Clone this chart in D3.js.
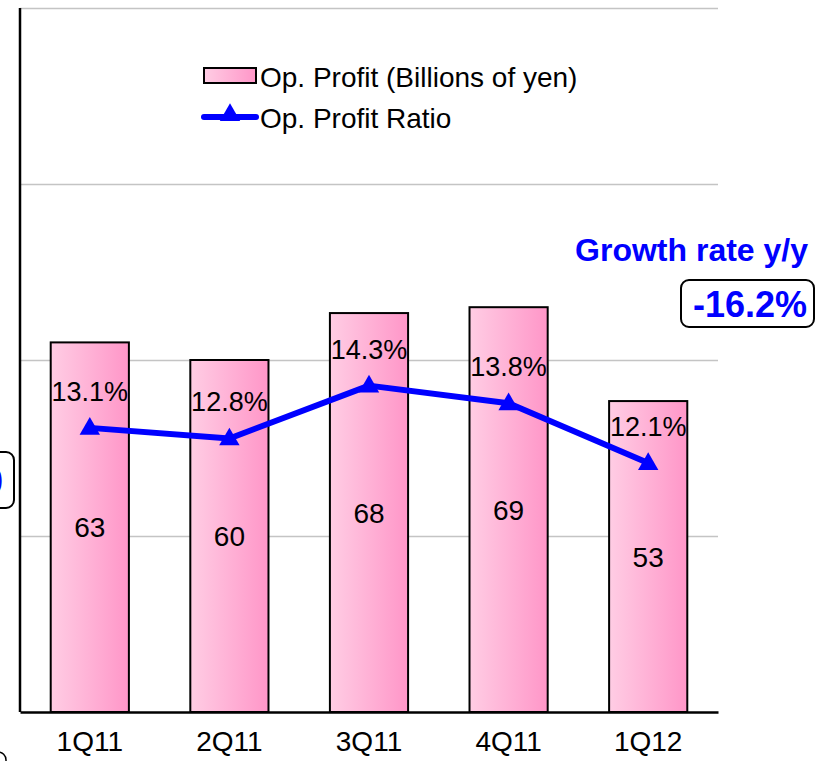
<!DOCTYPE html>
<html>
<head>
<meta charset="utf-8">
<script src="https://cdn.jsdelivr.net/npm/d3@7"></script>
<style>
  body { margin: 0; background: #fff; }
  svg { display: block; font-family: "Liberation Sans", Arial, sans-serif; }
</style>
</head>
<body>
<svg width="817" height="761"></svg>
<script>
var quarters = ["1Q11", "2Q11", "3Q11", "4Q11", "1Q12"];
var profit = [63, 60, 68, 69, 53];
var ratio = [13.1, 12.8, 14.3, 13.8, 12.1];
var growthLabel = "Growth rate y/y";
var growthValue = "-16.2%";

var svg = d3.select("svg");
var margin = {top: 8, right: 99, bottom: 49, left: 20};
var width = +svg.attr("width") - margin.left - margin.right;
var height = +svg.attr("height") - margin.top - margin.bottom;

var defs = svg.append("defs");
var grad = defs.append("linearGradient").attr("id", "pink")
    .attr("x1", "0%").attr("x2", "100%").attr("y1", "0%").attr("y2", "0%");
grad.append("stop").attr("offset", "0%").attr("stop-color", "#ffcde4");
grad.append("stop").attr("offset", "100%").attr("stop-color", "#ff96c8");

var g = svg.append("g")
    .attr("transform", "translate(" + margin.left + "," + margin.top + ")");

var x = d3.scaleBand().domain(quarters).range([0, width]).paddingInner(0.44).paddingOuter(0.22);
var y = d3.scaleLinear().domain([0, 120]).range([height, 0]);
var y2 = d3.scaleLinear().domain([5, 25]).range([height, 0]);

// gridlines
g.append("g")
    .call(d3.axisLeft(y).tickValues([30, 60, 90, 120]).tickSize(-width).tickFormat(""))
    .call(function(s) { s.select(".domain").remove(); })
    .selectAll("line").attr("stroke", "#c4c4c4").attr("stroke-width", 1.5);

// bars
g.selectAll("rect.bar").data(profit).enter().append("rect")
    .attr("class", "bar")
    .attr("x", function(d, i) { return x(quarters[i]); })
    .attr("y", function(d) { return y(d); })
    .attr("width", x.bandwidth())
    .attr("height", function(d) { return height - y(d); })
    .attr("fill", "url(#pink)")
    .attr("stroke", "#000")
    .attr("stroke-width", 2);

g.selectAll("text.val").data(profit).enter().append("text")
    .attr("x", function(d, i) { return x(quarters[i]) + x.bandwidth() / 2; })
    .attr("y", function(d) { return (y(d) + height) / 2 + 10; })
    .attr("text-anchor", "middle")
    .attr("font-size", 28)
    .text(function(d) { return d; });

// axes
var xAxis = g.append("g")
    .attr("transform", "translate(0," + height + ")")
    .call(d3.axisBottom(x).tickSize(0).tickPadding(19));
xAxis.select(".domain").attr("stroke", "#000").attr("stroke-width", 2.5);
xAxis.selectAll("text").attr("font-size", 28).attr("fill", "#000")
    .attr("font-family", "Liberation Sans, Arial, sans-serif");

g.append("line")
    .attr("x1", 0).attr("x2", 0).attr("y1", 0).attr("y2", height)
    .attr("stroke", "#000").attr("stroke-width", 2.5);

// ratio line
var cx = function(d, i) { return x(quarters[i]) + x.bandwidth() / 2; };
var line = d3.line()
    .x(cx)
    .y(function(d) { return y2(d) + 1; });

g.append("path")
    .datum(ratio)
    .attr("d", line)
    .attr("fill", "none")
    .attr("stroke", "#0000ff")
    .attr("stroke-width", 6)
    .attr("stroke-linejoin", "round");

var tri = d3.symbol().type(d3.symbolTriangle).size(180);
g.selectAll("path.mark").data(ratio).enter().append("path")
    .attr("class", "mark")
    .attr("d", tri)
    .attr("transform", function(d, i) { return "translate(" + cx(d, i) + "," + (y2(d) + 2) + ")"; })
    .attr("fill", "#0000ff");

g.selectAll("text.pct").data(ratio).enter().append("text")
    .attr("x", cx)
    .attr("y", function(d) { return y2(d) - 26; })
    .attr("text-anchor", "middle")
    .attr("font-size", 27)
    .text(function(d) { return d.toFixed(1) + "%"; });

// legend
var leg = svg.append("g").attr("transform", "translate(204,0)");
leg.append("rect")
    .attr("x", 0).attr("y", 68).attr("width", 52).attr("height", 15)
    .attr("fill", "url(#pink)").attr("stroke", "#000").attr("stroke-width", 2);
leg.append("text").attr("x", 56).attr("y", 87).attr("font-size", 28)
    .text("Op. Profit (Billions of yen)");
leg.append("line")
    .attr("x1", 0).attr("x2", 52).attr("y1", 117).attr("y2", 117)
    .attr("stroke", "#0000ff").attr("stroke-width", 6).attr("stroke-linecap", "round");
leg.append("path").attr("d", tri).attr("transform", "translate(26,115)").attr("fill", "#0000ff");
leg.append("text").attr("x", 56).attr("y", 128).attr("font-size", 28)
    .text("Op. Profit Ratio");

// growth annotation
svg.append("text")
    .attr("x", 808).attr("y", 261)
    .attr("text-anchor", "end")
    .attr("font-size", 32).attr("font-weight", "bold").attr("fill", "#0000ff")
    .text(growthLabel);
svg.append("rect")
    .attr("x", 681).attr("y", 280).attr("width", 133).attr("height", 47)
    .attr("rx", 8).attr("fill", "#fff").attr("stroke", "#000").attr("stroke-width", 2);
svg.append("text")
    .attr("x", 750).attr("y", 317)
    .attr("text-anchor", "middle")
    .attr("font-size", 36).attr("font-weight", "bold").attr("fill", "#0000ff")
    .text(growthValue);

// cut-off boxes at left edge
svg.append("rect")
    .attr("x", -80).attr("y", 452).attr("width", 94).attr("height", 56)
    .attr("rx", 8).attr("fill", "#fff").attr("stroke", "#000").attr("stroke-width", 2);
svg.append("text")
    .attr("x", 3).attr("y", 494)
    .attr("text-anchor", "end")
    .attr("font-size", 36).attr("font-weight", "bold").attr("fill", "#0000ff")
    .text("0");
svg.append("rect")
    .attr("x", -80).attr("y", 752).attr("width", 86).attr("height", 50)
    .attr("rx", 8).attr("fill", "#fff").attr("stroke", "#000").attr("stroke-width", 1.5);
</script>
</body>
</html>
